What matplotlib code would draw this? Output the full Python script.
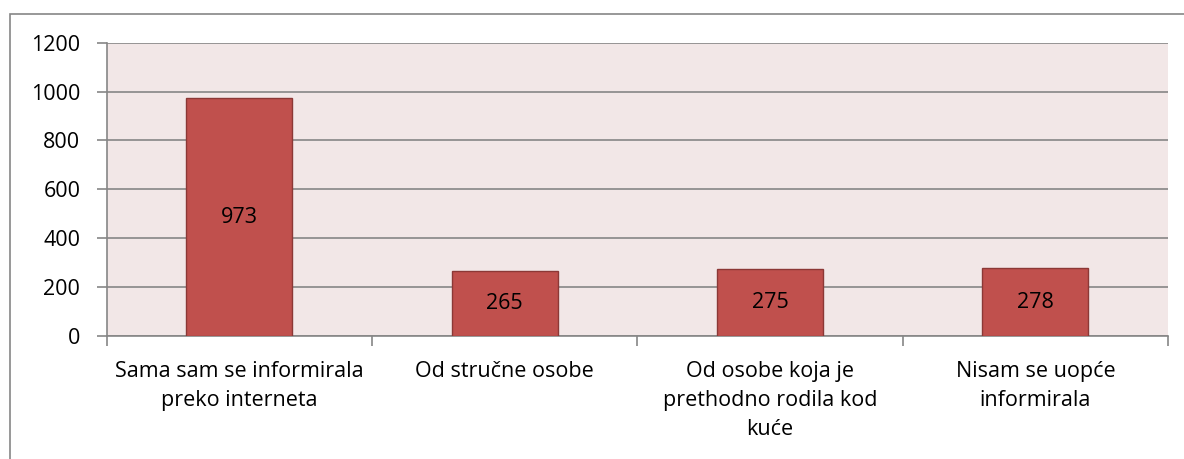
import matplotlib.pyplot as plt
from matplotlib.patches import Rectangle

categories = ["Sama sam se informirala\npreko interneta",
              "Od stručne osobe",
              "Od osobe koja je\nprethodno rodila kod\nkuće",
              "Nisam se uopće\ninformirala"]
values = [973, 265, 275, 278]
yticks = [0, 200, 400, 600, 800, 1000, 1200]

plt.rcParams['font.family'] = ['Open Sans', 'DejaVu Sans']

fig = plt.figure(figsize=(11.84, 4.59), dpi=100)
ax = fig.add_axes([106.7 / 1184, 1 - 336 / 459, (1168 - 106.7) / 1184, (336 - 42.7) / 459])

# chart frame (only left and top edges show in the crop)
fig.patches.append(Rectangle((10 / 1184, -0.1), 1.2, 1 - 14 / 459 + 0.1,
                             transform=fig.transFigure, fill=False,
                             edgecolor='#868686', linewidth=1.2))

ax.set_facecolor('#F2E7E7')
x = range(len(categories))
bars = ax.bar(x, values, width=0.4, color='#C0504D', edgecolor='#8C3836',
              linewidth=1, zorder=3)
for b, v in zip(bars, values):
    ax.text(b.get_x() + b.get_width() / 2, v / 2, str(v), ha='center',
            va='center', fontsize=15.5, color='black', zorder=4)

ax.set_xlim(-0.5, len(categories) - 0.5)
ax.set_ylim(0, 1200)
ax.set_yticks(yticks)
ax.set_yticklabels([str(t) for t in yticks], fontsize=15.5)
ax.yaxis.grid(True, color='#868686', linewidth=1.2, zorder=1)
ax.set_axisbelow(True)

ax.set_xticks([i - 0.5 for i in range(len(categories) + 1)])
ax.set_xticklabels([])
ax.set_xticks(list(x), minor=True)
ax.set_xticklabels(categories, minor=True, fontsize=15.5, linespacing=1.5)
ax.tick_params(axis='x', which='minor', length=0, pad=18)
ax.tick_params(axis='x', which='major', length=7, color='#868686', width=1.2)
ax.tick_params(axis='y', length=7, color='#868686', width=1.2, pad=12)

for s in ['top', 'right']:
    ax.spines[s].set_visible(False)
for s in ['left', 'bottom']:
    ax.spines[s].set_color('#868686')
    ax.spines[s].set_linewidth(1.2)

fig.savefig('out.png', dpi=100)
